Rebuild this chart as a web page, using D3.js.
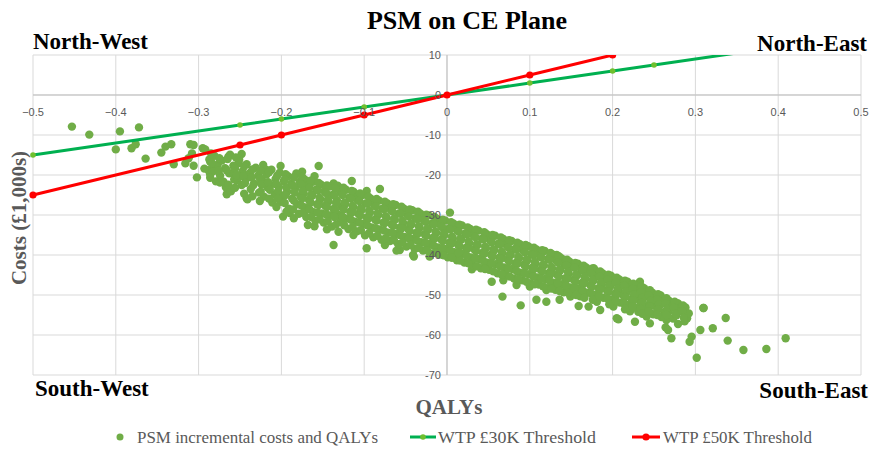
<!DOCTYPE html>
<html><head><meta charset="utf-8">
<script src="https://cdn.jsdelivr.net/npm/d3@7"></script>
<style>body{margin:0;background:#fff}svg{display:block}</style>
</head><body>
<svg id="chart" width="872" height="453"></svg>
<script>
const xTicks = [-0.5,-0.4,-0.3,-0.2,-0.1,0,0.1,0.2,0.3,0.4,0.5];
const yTicks = [10,0,-10,-20,-30,-40,-50,-60,-70];
const wtp30Qalys = [-0.5,-0.25,-0.2,-0.1,0,0.1,0.2,0.25,0.35];
const wtp30Costs = [-15,-7.5,-6,-3,0,3,6,7.5,10.5];
const wtp50Qalys = [-0.5,-0.25,-0.2,-0.1,0,0.1,0.2];
const wtp50Costs = [-25,-12.5,-10,-5,0,5,10];
const quadrantLabels = ["North-West","North-East","South-West","South-East"];
const legendLabels = ["PSM incremental costs and QALYs","WTP £30K Threshold","WTP £50K Threshold"];
// PSM incremental [QALYs, costs (£1,000s)]
const psmPoints = [
[-0.453,-7.9],[-0.432,-9.9],[-0.395,-9.1],[-0.372,-8.1],[-0.400,-13.6],[-0.381,-13.3],[-0.376,-12.3],[-0.364,-15.9],
[-0.345,-14.4],[-0.340,-12.9],[-0.333,-12.3],[-0.330,-17.3],[-0.316,-17.1],[-0.310,-12.3],[-0.306,-12.5],[-0.308,-14.6],
[-0.312,-15.8],[-0.306,-17.7],[-0.302,-20.6],[-0.295,-13.3],[-0.286,-16.7],[-0.288,-18.8],[-0.282,-17.9],[-0.276,-19.2],
[-0.266,-24.8],[-0.264,-15.4],[-0.258,-19.6],[-0.254,-21.3],[-0.252,-17.1],[-0.242,-25.8],[-0.248,-14.75],[-0.270,-21.7],
[-0.201,-17.75],[-0.155,-17.75],[-0.218,-18.75],[-0.198,-30.4],[-0.168,-32.5],[-0.137,-37.5],[-0.097,-38.3],[-0.115,-21.5],
[-0.081,-23.5],[-0.097,-24.0],[0.0036,-29.4],[-0.057,-38.75],[-0.040,-40.4],[0.030,-43.6],
[-0.190,-29.5],[-0.185,-30.8],[-0.170,-30.5],[-0.160,-32.8],[-0.145,-33.6],[-0.175,-19.2],[-0.160,-20.3],
[-0.137,-22.1],[-0.127,-23.3],[-0.113,-24.2],[-0.131,-34.2],[-0.113,-35.0],[-0.075,-37.5],[-0.061,-38.9],[-0.041,-40.0],
[-0.021,-40.4],[0.012,-41.3],[0.054,-46.7],[0.068,-46.3],[0.084,-47.5],[0.100,-47.9],[0.120,-48.75],[0.165,-49.6],
[0.067,-50.4],[0.089,-52.6],[0.108,-51.2],[0.120,-51.7],[0.136,-51.2],[0.149,-50.4],[0.159,-52.75],[0.171,-52.9],
[0.185,-53.75],[0.205,-55.8],[0.165,-43.3],[0.177,-43.3],[0.1325,-40.0],[0.233,-46.7],[0.215,-53.6],[0.231,-54.2],
[0.207,-56.1],[0.227,-56.7],[0.245,-57.1],[0.264,-58.1],[0.267,-58.75],[0.279,-57.25],[0.290,-55.8],[0.271,-60.8],
[0.293,-61.7],[0.306,-58.75],[0.310,-53.25],[0.321,-58.3],[0.3095,-53.25],[0.3366,-55.75],[0.339,-61.4],[0.358,-63.75],
[0.3857,-63.5],[0.409,-60.8],[0.3016,-65.7],[0.2955,-60.4],[0.287,-53.75],[0.281,-53.75],[0.279,-52.1],[0.265,-56.25],
[-0.292,-13.6],[-0.287,-16.1],[-0.293,-18.4],[-0.286,-19.9],
[-0.281,-15.2],[-0.277,-17.4],[-0.283,-19.1],[-0.279,-21.6],
[-0.272,-16.4],[-0.268,-18.3],[-0.274,-20.2],[-0.267,-23.1],
[-0.262,-14.9],[-0.258,-17.7],[-0.263,-19.6],[-0.257,-21.1],[-0.261,-24.1],
[-0.251,-16.2],[-0.247,-19.1],[-0.253,-20.7],[-0.248,-22.5],
[-0.242,-17.3],[-0.238,-19.5],[-0.243,-21.1],[-0.237,-23.5],[-0.241,-26.1],
[-0.231,-18.2],[-0.228,-20.1],[-0.233,-22.1],[-0.227,-24.4],
[-0.222,-17.5],[-0.218,-19.9],[-0.223,-21.4],[-0.217,-23.1],[-0.221,-25.4],
[-0.212,-18.7],[-0.207,-21.0],[-0.213,-22.5],[-0.208,-24.8],[-0.211,-26.9],
[-0.202,-19.4],[-0.197,-21.5],[-0.203,-23.0],[-0.198,-25.1],[-0.201,-26.7],
[-0.192,-20.3],[-0.188,-22.2],[-0.193,-24.2],[-0.187,-25.9],[-0.191,-28.4],
[-0.182,-19.6],[-0.178,-21.7],[-0.183,-23.3],[-0.177,-25.3],[-0.181,-27.3],[-0.179,-29.7],
[-0.172,-21.1],[-0.168,-22.7],[-0.173,-24.6],[-0.167,-26.2],[-0.171,-28.1],
[-0.162,-21.7],[-0.158,-23.7],[-0.163,-25.2],[-0.157,-27.3],[-0.161,-29.3],[-0.159,-31.4],
[-0.152,-22.4],[-0.148,-24.1],[-0.153,-26.1],[-0.147,-27.7],[-0.151,-29.6],[-0.149,-31.9],
[-0.142,-22.9],[-0.138,-24.9],[-0.143,-26.6],[-0.137,-28.5],[-0.141,-30.1],[-0.139,-32.9],
[-0.132,-22.7],[-0.128,-24.4],[-0.133,-26.3],[-0.127,-27.9],[-0.131,-30.0],[-0.129,-31.7],
[-0.122,-23.7],[-0.118,-25.7],[-0.123,-27.3],[-0.117,-29.2],[-0.121,-30.9],[-0.119,-33.5],
[-0.112,-24.5],[-0.108,-26.2],[-0.113,-28.1],[-0.107,-29.7],[-0.111,-31.7],[-0.109,-34.1],
[-0.102,-25.0],[-0.098,-27.1],[-0.103,-28.7],[-0.097,-30.6],[-0.101,-32.2],[-0.099,-35.1],
[-0.092,-25.9],[-0.088,-27.5],[-0.093,-29.4],[-0.087,-31.1],[-0.091,-33.1],[-0.089,-35.6],
[-0.082,-26.4],[-0.078,-28.4],[-0.083,-30.0],[-0.077,-31.9],[-0.081,-33.6],[-0.079,-36.2],
[-0.072,-27.1],[-0.068,-28.7],[-0.073,-30.7],[-0.067,-32.3],[-0.071,-34.4],[-0.069,-36.5],
[-0.062,-27.5],[-0.058,-29.6],[-0.063,-31.2],[-0.057,-33.1],[-0.061,-34.7],[-0.059,-37.3],
[-0.052,-28.4],[-0.048,-30.0],[-0.053,-32.0],[-0.047,-33.5],[-0.051,-35.5],[-0.049,-37.9],
[-0.042,-28.8],[-0.038,-30.8],[-0.043,-32.4],[-0.037,-34.4],[-0.041,-36.0],[-0.039,-38.5],
[-0.032,-29.7],[-0.028,-31.3],[-0.033,-33.2],[-0.027,-34.8],[-0.031,-36.8],[-0.029,-38.9],
[-0.022,-30.1],[-0.018,-32.1],[-0.023,-33.7],[-0.017,-35.7],[-0.021,-37.2],[-0.019,-39.7],
[-0.012,-31.0],[-0.008,-32.5],[-0.013,-34.5],[-0.007,-36.1],[-0.011,-38.1],[-0.009,-39.9],
[-0.002,-31.4],[0.002,-33.4],[-0.003,-35.0],[0.003,-36.9],[-0.001,-38.5],[0.001,-40.6],
[0.008,-32.2],[0.012,-33.8],[0.007,-35.8],[0.013,-37.3],[0.009,-39.3],[0.011,-40.9],
[0.018,-32.6],[0.022,-34.6],[0.017,-36.2],[0.023,-38.2],[0.019,-39.7],[0.021,-41.9],
[0.028,-33.5],[0.032,-35.1],[0.027,-37.1],[0.033,-38.6],[0.029,-40.6],[0.031,-42.5],
[0.038,-33.9],[0.042,-35.9],[0.037,-37.5],[0.043,-39.4],[0.039,-41.0],[0.041,-43.3],
[0.048,-34.8],[0.052,-36.3],[0.047,-38.3],[0.053,-39.9],[0.049,-41.9],[0.051,-43.7],
[0.058,-35.2],[0.062,-37.2],[0.057,-38.8],[0.063,-40.7],[0.059,-42.3],[0.061,-44.6],
[0.068,-36.0],[0.072,-37.6],[0.067,-39.6],[0.073,-41.1],[0.069,-43.1],[0.071,-44.9],
[0.078,-36.5],[0.082,-38.5],[0.077,-40.0],[0.083,-42.0],[0.079,-43.5],[0.081,-45.9],
[0.088,-37.3],[0.092,-38.9],[0.087,-40.8],[0.093,-42.4],[0.089,-44.4],[0.091,-46.3],
[0.098,-37.8],[0.102,-39.7],[0.097,-41.3],[0.103,-43.2],[0.099,-44.8],[0.101,-47.1],
[0.108,-38.6],[0.112,-40.2],[0.107,-42.1],[0.113,-43.7],[0.109,-45.6],[0.111,-47.4],
[0.118,-39.0],[0.122,-41.0],[0.117,-42.6],[0.123,-44.5],[0.119,-46.0],[0.121,-48.3],
[0.128,-39.9],[0.132,-41.4],[0.127,-43.4],[0.133,-44.9],[0.129,-46.9],[0.131,-48.7],
[0.138,-40.8],[0.142,-42.3],[0.137,-43.8],[0.143,-45.8],[0.139,-47.3],[0.141,-49.3],
[0.148,-41.7],[0.152,-42.8],[0.147,-44.7],[0.153,-46.2],[0.149,-48.1],[0.151,-49.5],
[0.158,-42.2],[0.162,-43.6],[0.157,-45.1],[0.163,-47.0],[0.159,-48.5],[0.161,-50.3],
[0.168,-43.1],[0.172,-44.1],[0.167,-46.0],[0.173,-47.5],[0.169,-49.4],
[0.178,-43.6],[0.182,-45.1],[0.177,-46.4],[0.183,-48.3],[0.179,-49.9],[0.181,-51.7],
[0.188,-44.6],[0.192,-45.7],[0.187,-47.3],[0.193,-48.8],[0.189,-50.7],
[0.198,-45.2],[0.202,-46.7],[0.197,-47.9],[0.203,-49.6],[0.199,-51.1],[0.201,-52.9],
[0.208,-46.1],[0.212,-47.2],[0.207,-48.8],[0.213,-50.1],[0.209,-51.9],
[0.218,-46.7],[0.222,-48.2],[0.217,-49.3],[0.223,-51.0],[0.219,-52.4],[0.221,-54.1],
[0.228,-47.6],[0.232,-48.8],[0.227,-50.3],[0.233,-51.5],[0.229,-53.2],
[0.238,-48.3],[0.242,-49.9],[0.237,-50.9],[0.243,-52.5],[0.239,-53.7],[0.241,-55.4],
[0.248,-49.4],[0.252,-50.5],[0.247,-51.9],[0.253,-53.1],[0.249,-54.8],
[0.258,-50.1],[0.262,-51.6],[0.257,-52.6],[0.263,-54.2],[0.259,-55.5],
[0.268,-51.4],[0.272,-52.7],[0.267,-54.4],[0.273,-55.9],
[0.278,-52.1],[0.282,-53.7],[0.277,-55.1],
[0.288,-53.1],[0.292,-54.6],[0.287,-56.6],
[-0.285,-14.6],[-0.284,-17.0],[-0.286,-20.7],
[-0.275,-15.8],[-0.276,-18.9],[-0.274,-21.9],
[-0.265,-16.0],[-0.266,-18.8],[-0.264,-22.4],
[-0.255,-15.6],[-0.256,-18.4],[-0.254,-20.0],[-0.256,-23.2],
[-0.245,-17.8],[-0.246,-20.3],[-0.244,-22.0],[-0.245,-24.7],
[-0.235,-18.6],[-0.236,-20.6],[-0.234,-22.6],[-0.235,-25.3],
[-0.225,-18.9],[-0.226,-20.8],[-0.224,-22.3],[-0.225,-24.2],[-0.226,-26.5],
[-0.215,-19.3],[-0.216,-21.8],[-0.214,-23.7],[-0.215,-25.9],
[-0.205,-20.2],[-0.206,-22.3],[-0.204,-24.0],[-0.205,-25.9],[-0.206,-28.0],
[-0.195,-19.8],[-0.196,-21.2],[-0.194,-23.2],[-0.195,-25.0],[-0.196,-27.0],[-0.194,-29.2],
[-0.185,-20.6],[-0.186,-22.7],[-0.184,-24.3],[-0.185,-26.4],[-0.186,-28.6],
[-0.175,-20.5],[-0.176,-22.3],[-0.174,-24.0],[-0.175,-25.8],[-0.176,-27.6],[-0.174,-29.4],
[-0.165,-21.4],[-0.166,-23.2],[-0.164,-25.0],[-0.165,-26.8],[-0.166,-28.6],[-0.164,-30.5],
[-0.155,-22.0],[-0.156,-23.9],[-0.154,-25.7],[-0.155,-27.5],[-0.156,-29.4],[-0.154,-31.1],
[-0.145,-22.6],[-0.146,-24.5],[-0.144,-26.2],[-0.145,-28.0],[-0.146,-29.8],[-0.144,-31.6],
[-0.135,-23.3],[-0.136,-25.1],[-0.134,-27.0],[-0.135,-28.8],[-0.136,-30.5],[-0.134,-32.4],
[-0.125,-23.2],[-0.126,-25.0],[-0.124,-26.9],[-0.125,-28.6],[-0.126,-30.4],[-0.124,-32.6],
[-0.115,-24.0],[-0.116,-25.9],[-0.114,-27.7],[-0.115,-29.4],[-0.116,-31.2],[-0.114,-33.0],
[-0.105,-24.6],[-0.106,-26.5],[-0.104,-28.3],[-0.105,-30.1],[-0.106,-31.9],[-0.104,-33.8],
[-0.095,-25.4],[-0.096,-27.2],[-0.094,-29.0],[-0.095,-30.8],[-0.096,-32.6],[-0.094,-34.5],
[-0.085,-26.0],[-0.086,-27.8],[-0.084,-29.6],[-0.085,-31.4],[-0.086,-33.3],[-0.084,-35.2],
[-0.075,-26.7],[-0.076,-28.5],[-0.074,-30.3],[-0.075,-32.0],[-0.076,-33.9],[-0.074,-35.8],
[-0.065,-27.3],[-0.066,-29.1],[-0.064,-30.9],[-0.065,-32.7],[-0.066,-34.5],[-0.064,-36.3],
[-0.055,-27.9],[-0.056,-29.7],[-0.054,-31.5],[-0.055,-33.3],[-0.056,-35.1],[-0.054,-36.9],
[-0.045,-28.6],[-0.046,-30.4],[-0.044,-32.2],[-0.045,-34.0],[-0.046,-35.8],[-0.044,-37.5],
[-0.035,-29.2],[-0.036,-31.0],[-0.034,-32.8],[-0.035,-34.6],[-0.036,-36.4],[-0.034,-38.2],
[-0.025,-29.9],[-0.026,-31.7],[-0.024,-33.5],[-0.025,-35.2],[-0.026,-37.0],[-0.024,-38.8],
[-0.015,-30.5],[-0.016,-32.3],[-0.014,-34.1],[-0.015,-35.9],[-0.016,-37.7],[-0.014,-39.4],
[-0.005,-31.2],[-0.006,-33.0],[-0.004,-34.7],[-0.005,-36.5],[-0.006,-38.3],[-0.004,-40.1],
[0.005,-31.8],[0.004,-33.6],[0.006,-35.4],[0.005,-37.2],[0.004,-38.9],[0.006,-40.7],
[0.015,-32.4],[0.014,-34.2],[0.016,-36.0],[0.015,-37.8],[0.014,-39.5],[0.016,-41.4],
[0.025,-33.1],[0.024,-34.9],[0.026,-36.6],[0.025,-38.4],[0.024,-40.2],[0.026,-42.1],
[0.035,-33.7],[0.034,-35.5],[0.036,-37.3],[0.035,-39.0],[0.034,-40.8],[0.036,-42.8],
[0.045,-34.3],[0.044,-36.1],[0.046,-37.9],[0.045,-39.7],[0.044,-41.5],[0.046,-43.5],
[0.055,-35.0],[0.054,-36.8],[0.056,-38.6],[0.055,-40.3],[0.054,-42.1],[0.056,-44.1],
[0.065,-35.6],[0.064,-37.4],[0.066,-39.2],[0.065,-41.0],[0.064,-42.8],[0.066,-44.8],
[0.075,-36.3],[0.074,-38.1],[0.076,-39.8],[0.075,-41.6],[0.074,-43.4],[0.076,-45.4],
[0.085,-36.9],[0.084,-38.7],[0.086,-40.5],[0.085,-42.2],[0.084,-44.0],[0.086,-46.0],
[0.095,-37.5],[0.094,-39.3],[0.096,-41.1],[0.095,-42.9],[0.094,-44.6],[0.096,-46.7],
[0.105,-38.2],[0.104,-40.0],[0.106,-41.7],[0.105,-43.5],[0.104,-45.3],[0.106,-47.3],
[0.115,-38.8],[0.114,-40.6],[0.116,-42.4],[0.115,-44.1],[0.114,-45.9],[0.116,-47.8],
[0.125,-39.5],[0.124,-41.2],[0.126,-43.0],[0.125,-44.8],[0.124,-46.5],[0.126,-48.4],
[0.135,-40.3],[0.134,-41.9],[0.136,-43.6],[0.135,-45.4],[0.134,-47.1],[0.136,-49.0],
[0.145,-41.2],[0.144,-42.6],[0.146,-44.2],[0.145,-46.0],[0.144,-47.7],[0.146,-49.4],
[0.155,-42.0],[0.154,-43.2],[0.156,-44.9],[0.155,-46.6],[0.154,-48.3],[0.156,-50.0],
[0.165,-42.7],[0.164,-43.9],[0.166,-45.5],[0.165,-47.2],[0.164,-48.9],[0.166,-50.7],
[0.175,-43.4],[0.174,-44.6],[0.176,-46.2],[0.175,-47.9],[0.174,-49.6],[0.176,-51.2],
[0.185,-44.1],[0.184,-45.4],[0.186,-46.9],[0.185,-48.6],[0.184,-50.3],
[0.195,-44.9],[0.194,-46.2],[0.196,-47.6],[0.195,-49.2],[0.194,-50.9],[0.196,-52.3],
[0.205,-45.7],[0.204,-46.9],[0.206,-48.4],[0.205,-49.9],[0.204,-51.5],
[0.215,-46.4],[0.214,-47.7],[0.216,-49.1],[0.215,-50.5],[0.214,-52.2],[0.216,-53.4],
[0.225,-47.2],[0.224,-48.5],[0.226,-49.8],[0.225,-51.3],[0.224,-52.8],
[0.235,-47.9],[0.234,-49.3],[0.236,-50.6],[0.235,-52.0],[0.234,-53.5],[0.236,-54.7],
[0.245,-48.8],[0.244,-50.2],[0.246,-51.4],[0.245,-52.8],[0.244,-54.2],
[0.255,-49.8],[0.254,-51.1],[0.256,-52.3],[0.255,-53.6],[0.254,-55.0],
[0.265,-50.8],[0.264,-52.1],[0.266,-53.5],[0.265,-55.0],
[0.275,-51.7],[0.274,-53.2],[0.276,-54.7],
[0.285,-52.6],[0.284,-54.1],[0.286,-55.7]
];

const svg = d3.select("#chart");
const x = d3.scaleLinear().domain([-0.5,0.5]).range([33,861]);
const y = d3.scaleLinear().domain([-70,10]).range([375,55]);
const serif = "'Liberation Serif','Times New Roman',serif";
const sans = "'Liberation Sans',Arial,sans-serif";
const grey = "#595959";

svg.append("g").selectAll("line").data(xTicks).join("line")
  .attr("x1",d=>x(d)).attr("x2",d=>x(d)).attr("y1",y(10)).attr("y2",y(-70))
  .attr("stroke","#d9d9d9").attr("stroke-width",1);
svg.append("g").selectAll("line").data(yTicks).join("line")
  .attr("x1",x(-0.5)).attr("x2",x(0.5)).attr("y1",d=>y(d)).attr("y2",d=>y(d))
  .attr("stroke","#d9d9d9").attr("stroke-width",1);
svg.append("line").attr("x1",x(-0.5)).attr("x2",x(0.5)).attr("y1",y(0)).attr("y2",y(0)).attr("stroke","#bfbfbf");
svg.append("line").attr("x1",x(0)).attr("x2",x(0)).attr("y1",y(10)).attr("y2",y(-70)).attr("stroke","#bfbfbf");

svg.append("clipPath").attr("id","plot").append("rect")
  .attr("x",x(-0.5)-6).attr("y",y(10)).attr("width",x(0.5)-x(-0.5)+12).attr("height",y(-70)-y(10)+6);

svg.append("g").selectAll("circle").data(psmPoints).join("circle")
  .attr("cx",d=>x(d[0])).attr("cy",d=>y(d[1])).attr("r",4.2).attr("fill","#70ad47");

const line = d3.line().x(d=>x(d[0])).y(d=>y(d[1]));
const g30 = wtp30Qalys.map((q,i)=>[q,wtp30Costs[i]]);
const g50 = wtp50Qalys.map((q,i)=>[q,wtp50Costs[i]]);
const lg = svg.append("g").attr("clip-path","url(#plot)");
lg.append("path").datum(g30).attr("d",line).attr("fill","none").attr("stroke","#00b050").attr("stroke-width",3);
lg.selectAll(".m30").data(g30.slice(0,-1)).join("circle").attr("class","m30")
  .attr("cx",d=>x(d[0])).attr("cy",d=>y(d[1])).attr("r",2.8).attr("fill","#6fbf2e");
lg.append("path").datum(g50).attr("d",line).attr("fill","none").attr("stroke","#ff0000").attr("stroke-width",3);
lg.selectAll(".m50").data(g50).join("circle").attr("class","m50")
  .attr("cx",d=>x(d[0])).attr("cy",d=>y(d[1])).attr("r",3.6).attr("fill","#ff0000");

svg.append("g").selectAll("text").data(xTicks).join("text")
  .attr("x",d=>x(d)).attr("y",y(0)+21).attr("text-anchor","middle")
  .attr("font-family",sans).attr("font-size",11).attr("fill",grey)
  .text(d=>d3.format("")(d));
svg.append("g").selectAll("text").data(yTicks).join("text")
  .attr("x",x(0)-6).attr("y",d=>y(d)+4).attr("text-anchor","end")
  .attr("font-family",sans).attr("font-size",11).attr("fill",grey)
  .text(d=>d);

svg.append("text").attr("x",467).attr("y",29).attr("text-anchor","middle")
  .attr("font-family",serif).attr("font-weight","bold").attr("font-size",26).attr("fill","#000")
  .text("PSM on CE Plane");
const ql = [[33,49,"start"],[867,51,"end"],[35,396,"start"],[868,398,"end"]];
svg.append("g").selectAll("text").data(quadrantLabels).join("text")
  .attr("x",(d,i)=>ql[i][0]).attr("y",(d,i)=>ql[i][1]).attr("text-anchor",(d,i)=>ql[i][2])
  .attr("font-family",serif).attr("font-weight","bold").attr("font-size",23).attr("fill","#000")
  .text(d=>d);
svg.append("text").attr("x",449).attr("y",414).attr("text-anchor","middle")
  .attr("font-family",serif).attr("font-weight","bold").attr("font-size",21).attr("fill",grey).text("QALYs");
svg.append("text").attr("transform","translate(26,218) rotate(-90)").attr("text-anchor","middle")
  .attr("font-family",serif).attr("font-weight","bold").attr("font-size",21).attr("fill",grey).text("Costs (£1,000s)");

const leg = svg.append("g");
leg.append("circle").attr("cx",120).attr("cy",437).attr("r",3.5).attr("fill","#70ad47");
leg.append("line").attr("x1",410).attr("x2",436).attr("y1",437).attr("y2",437).attr("stroke","#00b050").attr("stroke-width",3);
leg.append("circle").attr("cx",423).attr("cy",437).attr("r",2.8).attr("fill","#6fbf2e");
leg.append("line").attr("x1",632).attr("x2",660).attr("y1",437).attr("y2",437).attr("stroke","#ff0000").attr("stroke-width",3);
leg.append("circle").attr("cx",646).attr("cy",437).attr("r",3.6).attr("fill","#ff0000");
const lx = [[137,241],[438,158],[663,149]];
leg.selectAll("text").data(legendLabels).join("text")
  .attr("x",(d,i)=>lx[i][0]).attr("y",443)
  .attr("textLength",(d,i)=>lx[i][1]).attr("lengthAdjust","spacingAndGlyphs")
  .attr("font-family",serif).attr("font-size",16).attr("fill",grey).text(d=>d);
</script>
</body></html>
